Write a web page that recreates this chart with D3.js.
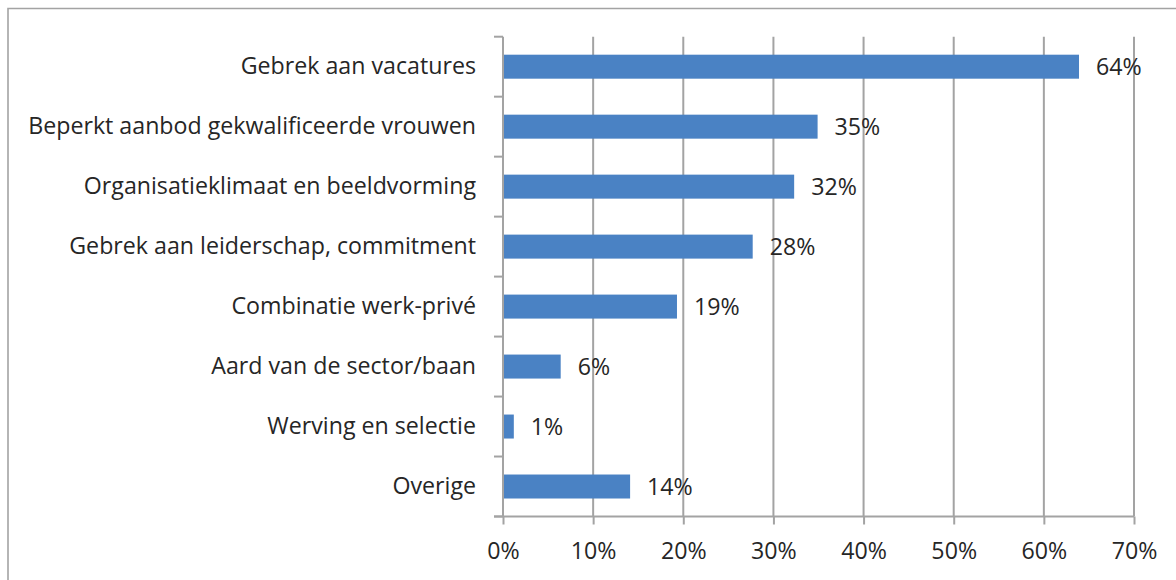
<!DOCTYPE html>
<html><head><meta charset="utf-8">
<script src="https://cdn.jsdelivr.net/npm/d3@7"></script>
<style>html,body{margin:0;padding:0;background:#fff;}svg{display:block;}text{font-variant-ligatures:none;}</style>
</head><body>
<svg id="c" width="1176" height="580"></svg>
<script>
const categories = ["Gebrek aan vacatures","Beperkt aanbod gekwalificeerde vrouwen","Organisatieklimaat en beeldvorming","Gebrek aan leiderschap, commitment","Combinatie werk-privé","Aard van de sector/baan","Werving en selectie","Overige"];
const values = [63.9, 34.9, 32.3, 27.7, 19.3, 6.4, 1.2, 14.1];
const xTicks = [0,10,20,30,40,50,60,70];

(function(){
const svg = d3.select("#c");
const font = "'Open Sans', sans-serif";
const fs = 23.2;
const grid = "#a3a3a3";
const textCol = "#262626";

// frame
svg.append("path").attr("d","M8,580 V8.5 H1176").attr("fill","none").attr("stroke",grid).attr("stroke-width",1.6);

const x = d3.scaleLinear().domain([0,70]).range([503,1134]);
const y = d3.scaleBand().domain(categories).range([36.7,516.5]).paddingInner(0.6).paddingOuter(0.3);
const plotTop = 36.7, plotBottom = 516.5;

// gridlines
svg.append("g").selectAll("line").data(xTicks.slice(1)).join("line")
  .attr("x1",d=>x(d)).attr("x2",d=>x(d)).attr("y1",plotTop).attr("y2",plotBottom)
  .attr("stroke",grid).attr("stroke-width",2);

// bottom axis
const xa = svg.append("g").attr("transform",`translate(0,${plotBottom})`)
  .call(d3.axisBottom(x).tickValues(xTicks).tickFormat(d=>d+"%").tickSize(8).tickPadding(18));
xa.select(".domain").attr("stroke",grid).attr("stroke-width",2).attr("d",`M${x(0)-9},0H${x(70)}`);
xa.selectAll(".tick line").attr("stroke",grid).attr("stroke-width",2);
xa.selectAll(".tick text").attr("font-family",font).attr("font-size",fs).attr("fill",textCol);

// left axis
const ya = svg.append("g").attr("transform",`translate(${x(0)},0)`)
  .call(d3.axisLeft(y).tickSize(0).tickPadding(27));
ya.select(".domain").attr("stroke",grid).attr("stroke-width",2).attr("d",`M0,${plotTop}V${plotBottom}`);
ya.selectAll(".tick text").attr("font-family",font).attr("font-size",fs).attr("fill",textCol);
// category boundary ticks
const bounds = d3.range(categories.length+1).map(i=>plotTop + i*y.step());
svg.append("g").selectAll("line").data(bounds).join("line")
  .attr("x1",x(0)-9).attr("x2",x(0)).attr("y1",d=>d).attr("y2",d=>d)
  .attr("stroke",grid).attr("stroke-width",2);

// bars
svg.append("g").selectAll("rect").data(values).join("rect")
  .attr("x",x(0)+1).attr("y",(d,i)=>y(categories[i]))
  .attr("width",d=>x(d)-x(0)-1).attr("height",y.bandwidth())
  .attr("fill","#4a82c4");

// value labels
svg.append("g").selectAll("text").data(values).join("text")
  .attr("x",d=>x(d)+17).attr("y",(d,i)=>y(categories[i])+y.bandwidth()/2)
  .attr("dy","0.35em").attr("font-family",font).attr("font-size",fs).attr("fill",textCol)
  .text(d=>Math.round(d)+"%");
})();
</script>
</body></html>
